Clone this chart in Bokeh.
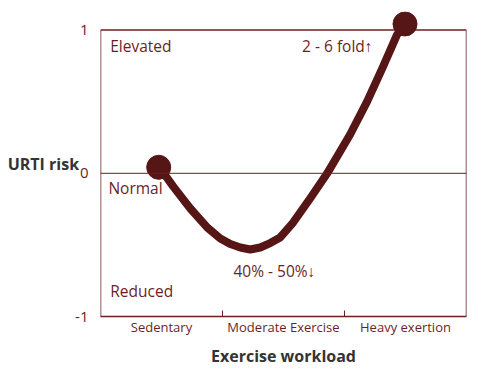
from bokeh.plotting import figure
from bokeh.models import Range1d, FixedTicker, Span
from bokeh.core.properties import value
from bokeh.embed import file_html
from bokeh.resources import INLINE

categories = ["Sedentary", "Moderate Exercise", "Heavy exertion"]
cat_pos = [0.5, 1.5, 2.5]
boundaries = [1, 2]
y_ticks = [-1, 0, 1]
y_tick_labels = ["-1", "0", "1"]
x_lim = [0, 3]

curve_x = [0.477, 0.532, 0.597, 0.736, 0.876, 0.982, 1.064, 1.146, 1.227, 1.309, 1.391, 1.473, 1.579, 1.718, 1.857, 1.964, 2.046, 2.185, 2.316, 2.430, 2.496]
curve_y = [0.042, -0.016, -0.093, -0.246, -0.379, -0.455, -0.494, -0.518, -0.532, -0.518, -0.487, -0.448, -0.344, -0.176, -0.002, 0.152, 0.271, 0.501, 0.745, 0.967, 1.043]

end_x = [0.477, 2.496]
end_y = [0.042, 1.043]

zone_labels = ["Elevated", "Normal", "Reduced"]
zone_x = [0.08, 0.065, 0.08]
zone_y = [0.89, -0.105, -0.825]

note_labels = ["2 - 6 fold\u2191", "40% - 50%\u2193"]
note_x = [2.23, 1.09]
note_y = [0.89, -0.685]

DARK = "#561616"
TXT = "#6b1f1f"
FONT = "Open Sans"

p = figure(width=492, height=372, output_backend="svg", toolbar_location=None,
           x_range=Range1d(x_lim[0], x_lim[1]), y_range=Range1d(y_ticks[0], 1.13),
           min_border_left=100, min_border_right=26, min_border_top=11, min_border_bottom=56)
p.grid.visible = False
p.outline_line_color = None
p.background_fill_color = "white"
p.border_fill_color = "white"

# x axis
xa = p.xaxis[0]
xa.ticker = FixedTicker(ticks=cat_pos, minor_ticks=boundaries)
xa.major_label_overrides = {pos: lab for pos, lab in zip(cat_pos, categories)}
xa.major_tick_in = 0
xa.major_tick_out = 0
xa.minor_tick_in = 6
xa.minor_tick_out = 0
xa.minor_tick_line_color = TXT
xa.axis_line_color = TXT
xa.axis_line_width = 1.5
xa.major_label_text_font = FONT
xa.major_label_text_font_size = "13px"
xa.major_label_text_color = TXT
xa.major_label_standoff = 1
xa.axis_label = "Exercise workload"
xa.axis_label_text_font = FONT
xa.axis_label_text_font_style = "bold"
xa.axis_label_text_font_size = "16px"
xa.axis_label_text_color = "#333333"
xa.axis_label_standoff = 6

# y axis
ya = p.yaxis[0]
ya.ticker = FixedTicker(ticks=y_ticks)
ya.major_label_overrides = {t: s for t, s in zip(y_ticks, y_tick_labels)}
ya.major_tick_in = 0
ya.major_tick_out = 0
ya.minor_tick_in = 0
ya.minor_tick_out = 0
ya.axis_line_color = None
ya.major_label_text_font = FONT
ya.major_label_text_font_size = "15px"
ya.major_label_text_color = TXT
ya.major_label_standoff = 12
ya.axis_label = "URTI risk"
ya.axis_label_orientation = "horizontal"
ya.axis_label_text_font = FONT
ya.axis_label_text_font_style = "bold"
ya.axis_label_text_font_size = "16px"
ya.axis_label_text_color = "#333333"
ya.axis_label_standoff = -7

# frame box (left, right, top edges) at the value limits
p.segment(x0=[x_lim[0], x_lim[1], x_lim[0]], y0=[y_ticks[0], y_ticks[0], y_ticks[-1]],
          x1=[x_lim[0], x_lim[1], x_lim[1]], y1=[y_ticks[-1], y_ticks[-1], y_ticks[-1]],
          line_color=TXT, line_width=1.5)
p.add_layout(Span(location=0, dimension="width", line_color=TXT, line_width=1))

p.line(curve_x, curve_y, line_color=DARK, line_width=8, line_cap="round", line_join="round")
p.scatter(end_x, end_y, size=24, fill_color=DARK, line_color=DARK)

p.text(zone_x, zone_y, text=zone_labels, text_font=value(FONT), text_font_size="15.5px",
       text_color=TXT, text_baseline="middle", text_align="left")
p.text(note_x[:1], note_y[:1], text=note_labels[:1], text_font=value(FONT), text_font_size="15.5px",
       text_color=TXT, text_baseline="middle", text_align="right")
p.text(note_x[1:], note_y[1:], text=note_labels[1:], text_font=value(FONT), text_font_size="15.5px",
       text_color=TXT, text_baseline="middle", text_align="left")

open("out.html", "w").write(file_html(p, INLINE))
